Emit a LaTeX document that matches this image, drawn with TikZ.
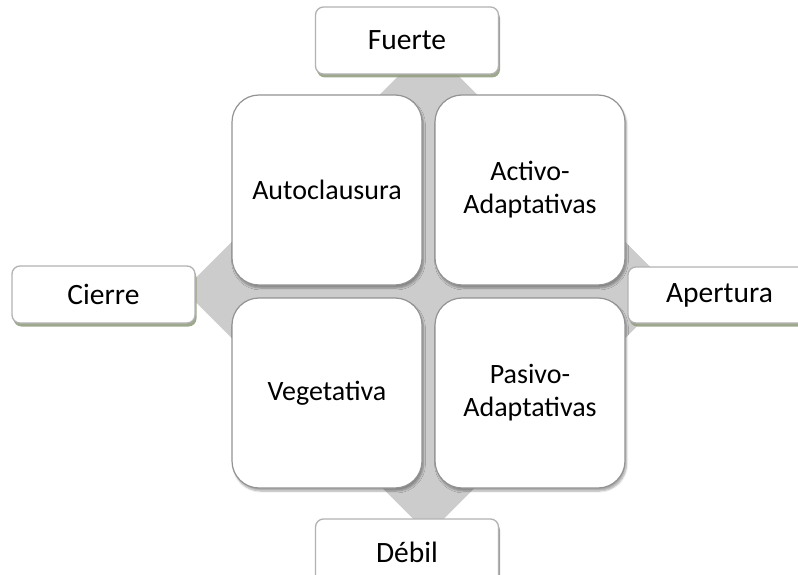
\documentclass[tikz,border=0pt]{standalone}
\usepackage{fontspec}
\setmainfont{Carlito}
\usetikzlibrary{shadows,shadows.blur}
\definecolor{labelshadow}{RGB}{148,158,128}
\begin{document}
\begin{tikzpicture}[x=1pt,y=-1pt,
  every node/.style={font=\fontsize{28}{33}\selectfont, text=black, inner sep=0pt},
  axislabel/.style={draw=gray!60, line width=1.3pt, fill=white, rounded corners=8pt,
    minimum width=183pt, font=\fontsize{29.5}{34}\selectfont,
    drop shadow={fill=labelshadow, shadow xshift=1.5pt, shadow yshift=-3.5pt, opacity=0.9}},
  quadrant/.style={draw=gray!85, line width=1.2pt, fill=white, rounded corners=27pt,
    minimum width=190pt, minimum height=190pt, align=center,
    blur shadow={shadow xshift=1.5pt, shadow yshift=-3pt, shadow blur steps=6, shadow opacity=35}}]
  \useasboundingbox (0,0) rectangle (798,575);

  % central diamond behind the four quadrants
  \coordinate (dt) at (428.5,46);
  \coordinate (dl) at (183.5,290);
  \coordinate (db) at (428.5,534);
  \coordinate (dr) at (673.5,290);
  \fill[gray!40] (dt) -- (dr) -- (db) -- (dl) -- cycle;

  % axis labels
  \node[axislabel, minimum height=67pt] (fuerte) at (407,40.5) {Fuerte};
  \node[axislabel, minimum height=57pt] (cierre) at (103.5,294.5) {Cierre};
  \node[axislabel, minimum height=56pt] (apertura) at (719.5,295) {Apertura};
  \node[axislabel, minimum height=66pt] (debil) at (407,552) {Débil};

  % quadrants
  \node[quadrant] (auto) at (327,190) {Autoclausura};
  \node[quadrant] (activo) at (530,190) {Activo-\\Adaptativas};
  \node[quadrant] (vege) at (327,393) {Vegetativa};
  \node[quadrant] (pasivo) at (530,393) {Pasivo-\\Adaptativas};
\end{tikzpicture}
\end{document}
